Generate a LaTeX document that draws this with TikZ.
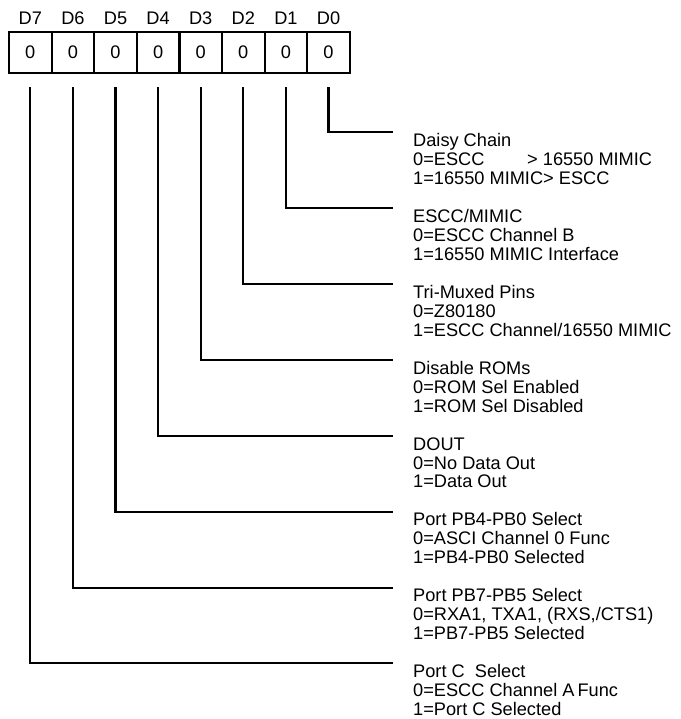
\documentclass[tikz,border=0pt]{standalone}
\usepackage{fontspec}
\setmainfont{Liberation Sans}
\begin{document}
\begin{tikzpicture}[x=1pt,y=-1pt,
  font=\fontsize{18.2}{18.7}\selectfont,
  cell/.style={draw, line width=2.2pt, minimum width=42.6pt, minimum height=41pt, inner sep=0pt},
  hdr/.style={inner sep=0pt},
  desc/.style={align=left, inner sep=0pt, anchor=north west},
  conn/.style={draw, line width=2.3pt}]
\useasboundingbox (0,0) rectangle (680,719);
% register cells
\foreach \i/\x in {7/30.3,6/72.9,5/115.5,4/158.1,3/200.7,2/243.3,1/285.9,0/328.5}{
  \node[cell] (c\i) at (\x,52.5) {0};
  \node[hdr] (h\i) at (\x,18) {D\i};
}
% descriptions
\node[desc] (t0) at (413,133.5) {Daisy Chain\\\makebox[114pt][l]{0=ESCC}> 16550 MIMIC\\1=16550 MIMIC> ESCC};
\node[desc] (t1) at (413,209.5) {ESCC/MIMIC\\0=ESCC Channel B\\1=16550 MIMIC Interface};
\node[desc] (t2) at (413,285.5) {Tri-Muxed Pins\\0=Z80180\\1=ESCC Channel/16550 MIMIC};
\node[desc] (t3) at (413,361.5) {Disable ROMs\\0=ROM Sel Enabled\\1=ROM Sel Disabled};
\node[desc] (t4) at (413,437.5) {DOUT\\0=No Data Out\\1=Data Out};
\node[desc] (t5) at (413,512.5) {Port PB4-PB0 Select\\0=ASCI Channel 0 Func\\1=PB4-PB0 Selected};
\node[desc] (t6) at (413,588.5) {Port PB7-PB5 Select\\0=RXA1, TXA1, (RXS,/CTS1)\\1=PB7-PB5 Selected};
\node[desc] (t7) at (413,664.5) {Port C\ \ Select\\0=ESCC Channel A\kern3pt Func\\1=Port C Selected};
% connector ends
\foreach \i/\y in {0/132,1/208,2/284,3/360,4/436,5/512,6/588,7/663}{
  \coordinate (e\i) at (393,\y);
  \draw[conn] ([yshift=-13pt]c\i.south) |- (e\i);
}
\end{tikzpicture}
\end{document}
